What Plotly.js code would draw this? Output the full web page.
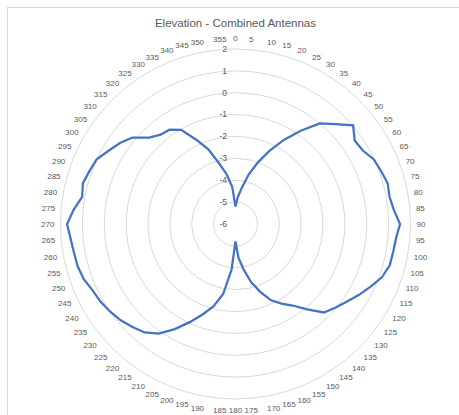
<!DOCTYPE html>
<html>
<head>
<meta charset="utf-8">
<script src="https://cdn.plot.ly/plotly-3.0.1.min.js"></script>
<style>
  html, body { margin: 0; padding: 0; background: #ffffff; }
  #frame { position: absolute; left: 7px; top: 7px; width: 470px; height: 420px; border: 1px solid #d9d9d9; }
  #chart { position: absolute; left: 0; top: 0; width: 459px; height: 415px; }
</style>
</head>
<body>
<div id="frame"></div>
<div id="chart"></div>
<script>
// Angle categories (degrees)
const angles = [];
for (let a = 0; a < 360; a += 5) angles.push(String(a));

// Combined antenna elevation values, one per angle
const values = [
  -5.2, -4.75, -4.3, -3.65, -3.0, -2.3, -1.55, -0.8, 0.0, 0.45,
  1.02, 0.65, 0.72, 0.98, 1.08, 1.2, 1.15, 1.27, 1.52, 1.37,
  1.32, 1.3, 1.12, 0.8, 0.5, 0.2, -0.05, -0.28, -0.9, -1.45,
  -1.8, -2.15, -2.7, -3.25, -3.9, -4.45, -5.2, -3.9, -2.75, -2.1,
  -1.6, -1.05, -0.45, 0.12, 0.47, 0.66, 0.85, 0.99, 1.12, 1.2,
  1.38, 1.47, 1.5, 1.57, 1.7, 1.43, 1.12, 1.22, 1.1, 1.0,
  0.7, 0.45, 0.15, -0.42, -0.67, -0.74, -1.03, -1.75, -2.37, -3.15,
  -3.7, -4.3
];

const radialTicks = [-6, -5, -4, -3, -2, -1, 0, 1, 2];

const trace = {
  type: 'scatterpolar',
  mode: 'lines',
  theta: angles.concat([angles[0]]),
  r: values.concat([values[0]]),
  line: { color: '#4472C4', width: 2.25 },
  hoverinfo: 'skip'
};

const layout = {
  width: 459,
  height: 415,
  paper_bgcolor: 'rgba(0,0,0,0)',
  plot_bgcolor: 'rgba(0,0,0,0)',
  margin: { l: 60, r: 48.4, t: 48.6, b: 15.8, pad: 0 },
  showlegend: false,
  title: {
    text: 'Elevation - Combined Antennas',
    font: { family: 'Liberation Sans, Arial, sans-serif', size: 11.5, color: '#595959' },
    x: 0.513, xanchor: 'center',
    y: 1 - 23 / 415, yanchor: 'middle'
  },
  polar: {
    bgcolor: 'rgba(0,0,0,0)',
    domain: { x: [0, 1], y: [0, 1] },
    angularaxis: {
      type: 'category',
      direction: 'clockwise',
      rotation: 90,
      showgrid: false,
      showline: true,
      linecolor: '#d9d9d9',
      linewidth: 1,
      ticks: 'outside',
      ticklen: 4,
      tickcolor: 'rgba(0,0,0,0)',
      tickfont: { family: 'Liberation Sans, Arial, sans-serif', size: 8, color: '#595959' }
    },
    radialaxis: {
      range: [-6, 2],
      tickvals: radialTicks,
      ticktext: radialTicks.map(String),
      angle: 90,
      tickangle: 90,
      side: 'counterclockwise',
      showline: false,
      ticks: 'outside',
      ticklen: 5,
      tickcolor: 'rgba(0,0,0,0)',
      showgrid: true,
      gridcolor: '#d9d9d9',
      gridwidth: 1,
      tickfont: { family: 'Liberation Sans, Arial, sans-serif', size: 8.5, color: '#595959' }
    }
  }
};

Plotly.newPlot('chart', [trace], layout, { displayModeBar: false, staticPlot: true });
</script>
</body>
</html>
